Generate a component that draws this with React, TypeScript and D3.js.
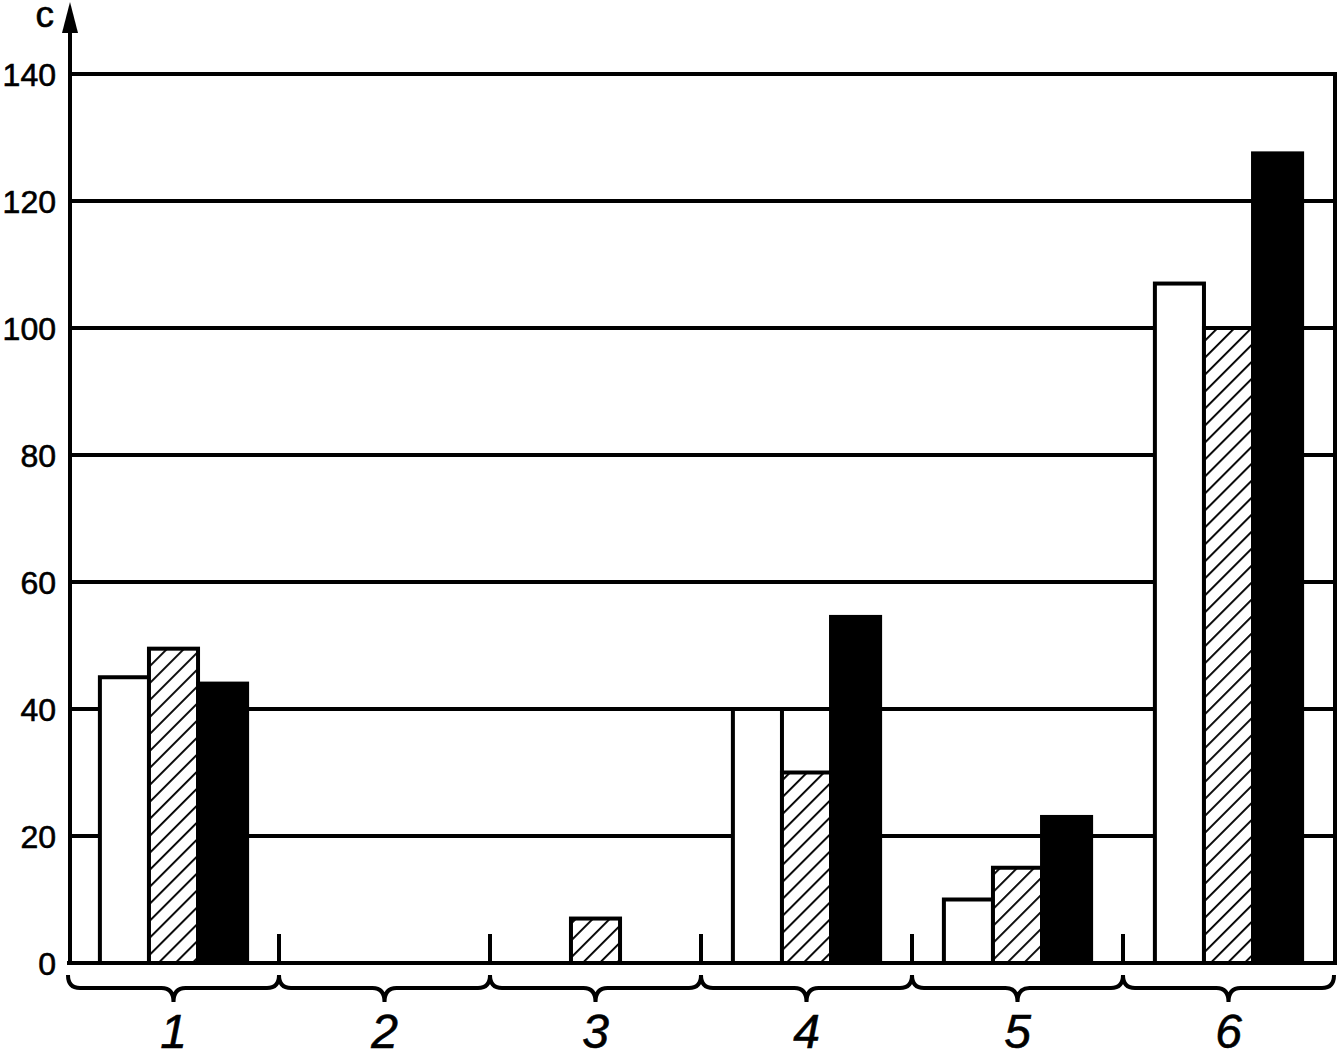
import React from "react";
import * as d3 from "d3";

const categories = ["1", "2", "3", "4", "5", "6"];
const seriesKeys = ["white", "hatched", "black"];
const whiteValues = [45, 0, 0, 40, 10, 107];
const hatchedValues = [49.5, 0, 7, 30, 15, 100];
const blackValues = [44, 0, 0, 54.5, 23, 127.5];
const yTicks = [0, 20, 40, 60, 80, 100, 120, 140];

const W = 1338;
const H = 1052;
const left = 70;
const right = 1335;
const top = 74;
const bottom = 963;
const FONT = "Liberation Sans, Arial, sans-serif";

export default function App() {
  const x = d3.scaleBand<string>().domain(categories).range([68, 1334]).paddingInner(0).paddingOuter(0);
  const xi = d3.scaleBand<string>().domain(seriesKeys).range([0, x.bandwidth()]).paddingOuter(0.65).paddingInner(0);
  const y = d3.scaleLinear().domain([0, 140]).range([bottom, top]);
  const series = [whiteValues, hatchedValues, blackValues];
  const fills = ["#fff", "url(#hatch)", "#000"];
  const sw = 4;

  const brace = (x0: number, x1: number) => {
    const cx = (x0 + x1) / 2;
    const yt = 975, ym = 988, yb = 1002, r = 12;
    return `M${x0},${yt} Q${x0},${ym} ${x0 + r},${ym} L${cx - r},${ym} Q${cx},${ym} ${cx},${yb} Q${cx},${ym} ${cx + r},${ym} L${x1 - r},${ym} Q${x1},${ym} ${x1},${yt}`;
  };

  return (
    <svg width={W} height={H} style={{ position: "absolute", left: 0, top: 0, background: "#fff" }}>
      <defs>
        <pattern id="hatch" patternUnits="userSpaceOnUse" width="12" height="12" patternTransform="rotate(45)">
          <rect width="12" height="12" fill="#fff" />
          <line x1="0" y1="0" x2="0" y2="12" stroke="#000" strokeWidth="3.8" />
        </pattern>
      </defs>
      {yTicks.filter((t) => t > 0).map((t) => (
        <line key={t} x1={left} x2={right} y1={y(t)} y2={y(t)} stroke="#000" strokeWidth={sw} />
      ))}
      <line x1={right} x2={right} y1={y(140) - sw / 2} y2={bottom} stroke="#000" strokeWidth={sw} />
      {categories.map((c, i) =>
        seriesKeys.map((k, j) => {
          const v = series[j][i];
          if (!v) return null;
          const bx = (x(c) as number) + (xi(k) as number);
          return (
            <rect
              key={c + k}
              x={bx}
              y={y(v)}
              width={xi.bandwidth()}
              height={bottom - y(v)}
              fill={fills[j]}
              stroke="#000"
              strokeWidth={sw}
            />
          );
        })
      )}
      {categories.slice(1).map((c) => (
        <line key={"sep" + c} x1={x(c)} x2={x(c)} y1={934} y2={bottom} stroke="#000" strokeWidth={sw} />
      ))}
      <line x1={left - 3} x2={right + sw / 2} y1={bottom} y2={bottom} stroke="#000" strokeWidth={sw} />
      <line x1={left} x2={left} y1={22} y2={bottom + sw / 2} stroke="#000" strokeWidth={sw} />
      <path d={`M${left - 8},33 L${left + 8},33 L${left},2 Z`} fill="#000" />
      <text x={54} y={27} textAnchor="end" fontFamily={FONT} fontSize={37} stroke="#000" strokeWidth={0.6}>c</text>
      {yTicks.map((t) => (
        <text
          key={"yl" + t}
          x={56}
          y={y(t) + 11.5}
          textAnchor="end"
          fontFamily={FONT}
          fontSize={32}
          stroke="#000"
          strokeWidth={0.6}
        >
          {t}
        </text>
      ))}
      {categories.map((c) => {
        const x0 = x(c) as number;
        const x1 = x0 + x.bandwidth();
        return (
          <g key={"b" + c}>
            <path d={brace(x0, x1)} fill="none" stroke="#000" strokeWidth={sw} />
            <text
              x={(x0 + x1) / 2}
              y={1048}
              textAnchor="middle"
              fontFamily={FONT}
              fontStyle="italic"
              fontSize={48}
              stroke="#000"
              strokeWidth={0.6}
            >
              {c}
            </text>
          </g>
        );
      })}
    </svg>
  );
}
